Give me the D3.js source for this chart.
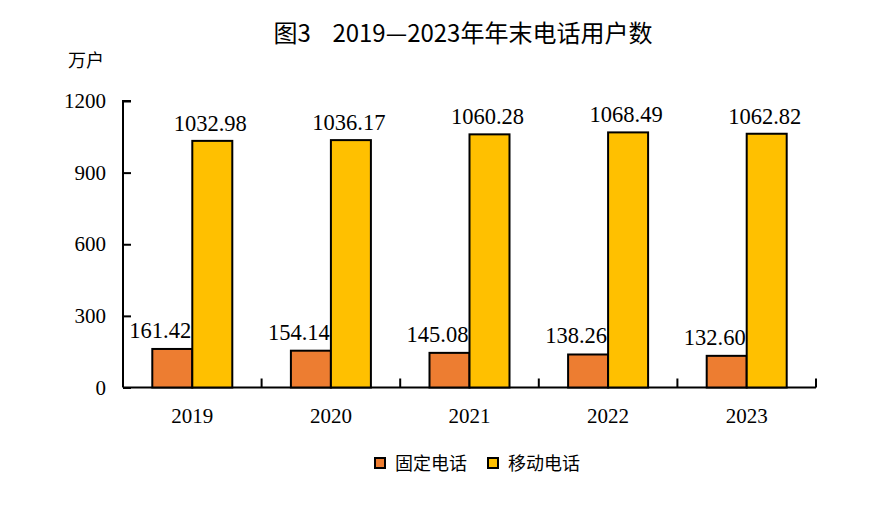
<!DOCTYPE html>
<html>
<head>
<meta charset="utf-8">
<script src="https://cdn.jsdelivr.net/npm/d3@7"></script>
<style>
  body { margin: 0; background: #fff; }
  svg text { fill: #000; }
</style>
</head>
<body>
<div id="chart"></div>
<script>
var years = ['2019', '2020', '2021', '2022', '2023'];
var fixedLine = [161.42, 154.14, 145.08, 138.26, 132.60];
var mobile = [1032.98, 1036.17, 1060.28, 1068.49, 1062.82];
var yTicks = [0, 300, 600, 900, 1200];
var seriesNames = ['固定电话', '移动电话'];
var seriesColors = ['#ed7d31', '#ffc000'];

var width = 888, height = 510;
var plotLeft = 123, plotRight = 816, plotTop = 101, plotBottom = 387.5;

var svg = d3.select('#chart').append('svg')
    .attr('width', width).attr('height', height);

var x = d3.scaleBand().domain(years).range([plotLeft, plotRight]);
var y = d3.scaleLinear().domain([0, 1200]).range([plotBottom, plotTop]);
var barW = 40;

// title
svg.append('text')
    .attr('x', 463).attr('y', 42)
    .attr('text-anchor', 'middle')
    .style('font-family', '"Noto Sans CJK SC", sans-serif')
    .style('font-size', '24px')
    .text('图3\u00a0\u00a0\u00a0\u00a02019—2023年年末电话用户数');

svg.append('text')
    .attr('x', 68).attr('y', 67)
    .style('font-family', '"Noto Sans CJK SC", sans-serif')
    .style('font-size', '18px')
    .text('万户');

// y axis
var yAxis = svg.append('g')
    .attr('transform', 'translate(' + plotLeft + ',0)')
    .call(d3.axisRight(y).tickValues(yTicks).tickSize(8).tickFormat(''));
yAxis.select('.domain').attr('stroke', '#000').attr('stroke-width', 2)
    .attr('d', 'M8,' + plotTop + 'H0V' + plotBottom);
yAxis.selectAll('.tick line').attr('stroke', '#000').attr('stroke-width', 2);

svg.append('g').selectAll('text').data(yTicks).enter().append('text')
    .attr('x', 106).attr('y', function(d) { return y(d) + 7; })
    .attr('text-anchor', 'end')
    .style('font-family', '"Liberation Serif", serif')
    .style('font-size', '21px')
    .text(function(d) { return d; });

// x axis
svg.append('line')
    .attr('x1', plotLeft).attr('x2', plotRight)
    .attr('y1', plotBottom).attr('y2', plotBottom)
    .attr('stroke', '#000').attr('stroke-width', 2);
var bounds = years.map(function(d) { return x(d) + x.bandwidth(); });
svg.append('g').selectAll('line').data(bounds).enter().append('line')
    .attr('x1', function(d) { return d; }).attr('x2', function(d) { return d; })
    .attr('y1', plotBottom).attr('y2', plotBottom - 9)
    .attr('stroke', '#000').attr('stroke-width', 2);

svg.append('g').selectAll('text').data(years).enter().append('text')
    .attr('x', function(d) { return x(d) + x.bandwidth() / 2; })
    .attr('y', 423)
    .attr('text-anchor', 'middle')
    .style('font-family', '"Liberation Serif", serif')
    .style('font-size', '21px')
    .text(function(d) { return d; });

// bars
var series = [fixedLine, mobile];
series.forEach(function(vals, s) {
    var g = svg.append('g');
    g.selectAll('rect').data(vals).enter().append('rect')
        .attr('x', function(d, i) { return x(years[i]) + x.bandwidth() / 2 - barW + s * barW; })
        .attr('y', function(d) { return y(d); })
        .attr('width', barW)
        .attr('height', function(d) { return plotBottom - y(d); })
        .attr('fill', seriesColors[s])
        .attr('stroke', '#000').attr('stroke-width', 2);
    g.selectAll('text').data(vals).enter().append('text')
        .attr('x', function(d, i) {
            return x(years[i]) + x.bandwidth() / 2 - barW / 2 + s * barW - (s === 0 ? 12 : 2);
        })
        .attr('y', function(d) { return y(d) - (s === 0 ? 11 : 10); })
        .attr('text-anchor', 'middle')
        .style('font-family', '"Liberation Serif", serif')
        .style('font-size', '22.5px')
        .text(function(d) { return d.toFixed(2); });
});

// legend
var legend = svg.append('g');
var legendX = [375, 488];
seriesNames.forEach(function(name, i) {
    legend.append('rect')
        .attr('x', legendX[i]).attr('y', 458)
        .attr('width', 10).attr('height', 10)
        .attr('fill', seriesColors[i])
        .attr('stroke', '#000').attr('stroke-width', 2);
    legend.append('text')
        .attr('x', legendX[i] + 20).attr('y', 470)
        .style('font-family', '"Noto Sans CJK SC", sans-serif')
        .style('font-size', '18px')
        .text(name);
});
</script>
</body>
</html>
